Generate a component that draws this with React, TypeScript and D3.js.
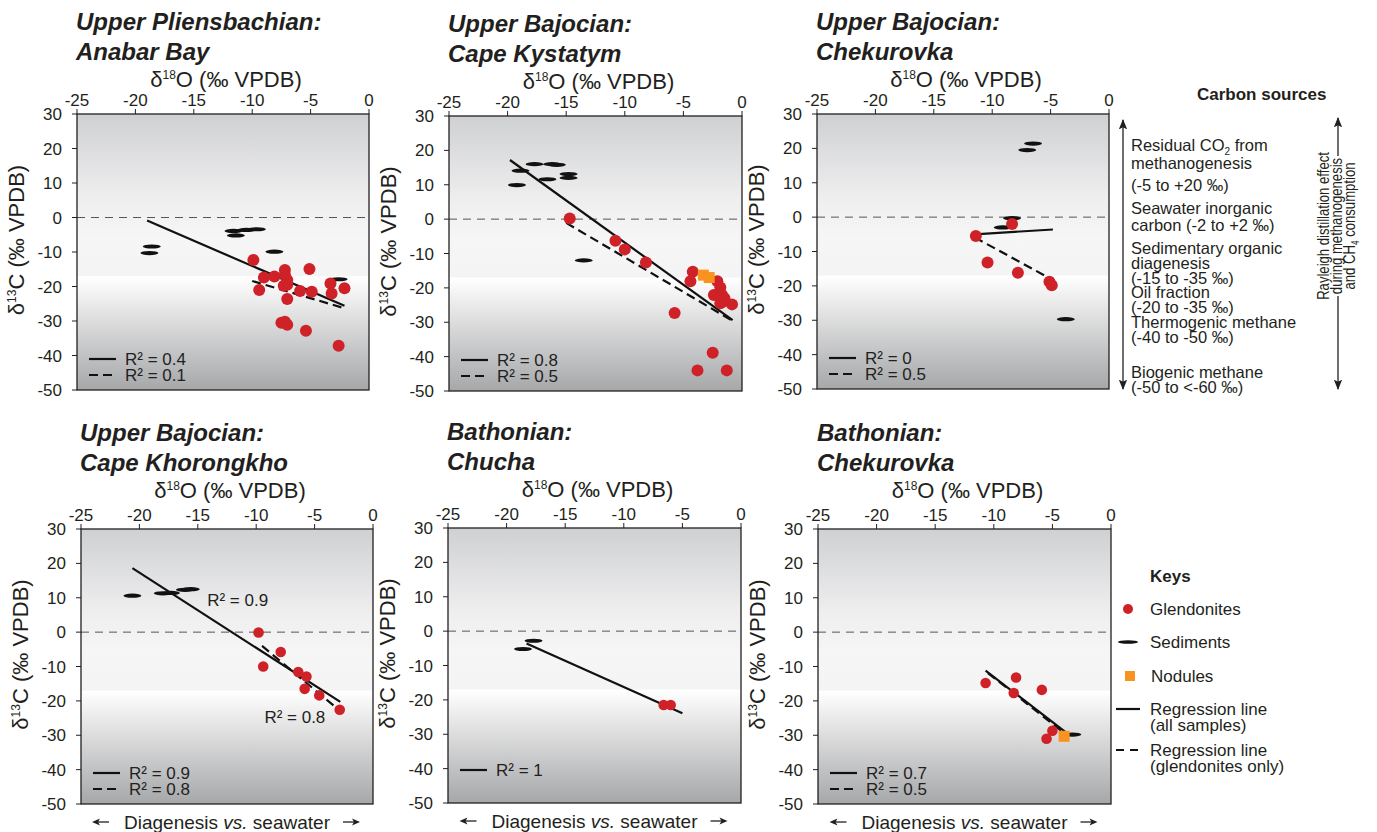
import React from 'react';
import * as d3 from 'd3';

type Pt = [number, number];

const xTicks = [-25, -20, -15, -10, -5, 0];
const yTicks = [30, 20, 10, 0, -10, -20, -30, -40, -50];

// Upper Pliensbachian: Anabar Bay
const anabarGlend: Pt[] = [
  [-9.9, -12.3], [-9.0, -17.4], [-9.4, -21], [-8.1, -17.1], [-7.2, -15.2], [-7.2, -16.6],
  [-7.0, -18.1], [-7.0, -19.5], [-7.3, -19.8], [-7.0, -23.6], [-7.5, -30.5], [-7.2, -30.2],
  [-7.0, -31.1], [-5.9, -21.3], [-5.1, -14.9], [-4.9, -21.5], [-5.4, -32.8], [-3.3, -19.1],
  [-3.2, -22], [-2.1, -20.5], [-2.6, -37.2],
];
const anabarSed: Pt[] = [
  [-18.6, -8.4], [-18.8, -10.3], [-11.6, -3.9], [-10.5, -3.6], [-9.6, -3.4], [-11.4, -5.2],
  [-8.1, -9.9], [-2.6, -17.9],
];
const anabarAllFit: Pt[] = [[-19.0, -0.9], [-2.1, -25.6]];
const anabarGlendFit: Pt[] = [[-10.0, -18.4], [-2.1, -26.3]];

// Upper Bajocian: Cape Kystatym
const kystatymGlend: Pt[] = [
  [-14.7, 0.2], [-10.8, -6.3], [-10.0, -8.8], [-8.2, -12.6], [-5.75, -27.3], [-4.2, -15.3],
  [-4.4, -18.1], [-2.1, -18.1], [-1.85, -19.9], [-2.4, -22.1], [-1.7, -22.1], [-1.6, -24],
  [-1.85, -24.5], [-0.85, -24.8], [-1.5, -23], [-2.5, -38.9], [-3.8, -44], [-1.3, -44],
];
const kystatymSed: Pt[] = [
  [-19.2, 9.9], [-18.9, 14.1], [-17.7, 16], [-16.2, 16], [-15.8, 15.8], [-16.6, 11.6],
  [-14.8, 13.1], [-14.8, 12], [-13.5, -12],
];
const kystatymNod: Pt[] = [[-3.3, -16.3], [-2.8, -17]];
const kystatymAllFit: Pt[] = [[-19.8, 17.2], [-0.8, -29.4]];
const kystatymGlendFit: Pt[] = [[-15.0, -1.1], [-0.8, -29.6]];

// Upper Bajocian: Chekurovka
const chekBajGlend: Pt[] = [
  [-11.4, -5.5], [-8.3, -2.0], [-10.4, -13.2], [-7.8, -16.2], [-5.1, -18.8], [-4.9, -19.8],
];
const chekBajSed: Pt[] = [[-6.5, 21.4], [-7.0, 19.5], [-9.1, -3.0], [-8.3, -0.3], [-3.7, -29.7]];
const chekBajAllFit: Pt[] = [[-11.5, -5.0], [-4.8, -3.6]];
const chekBajGlendFit: Pt[] = [[-11.5, -5.9], [-4.9, -18.1]];

// Upper Bajocian: Cape Khorongkho
const khorGlend: Pt[] = [
  [-9.8, -0.1], [-7.9, -5.8], [-9.4, -10], [-6.4, -11.6], [-5.7, -12.9], [-5.85, -16.5],
  [-4.6, -18.4], [-2.85, -22.6],
];
const khorSed: Pt[] = [[-20.6, 10.6], [-18.0, 11.3], [-17.3, 11.4], [-16.1, 12.3], [-15.6, 12.5]];
const khorAllFit: Pt[] = [[-20.6, 18.6], [-2.8, -20.3]];
const khorGlendFit: Pt[] = [[-9.5, -4.0], [-2.8, -23.0]];

// Bathonian: Chucha
const chuchaGlend: Pt[] = [[-6.6, -21.5], [-6.0, -21.5]];
const chuchaSed: Pt[] = [[-17.7, -2.8], [-18.6, -5.2]];
const chuchaAllFit: Pt[] = [[-18.3, -3.6], [-5.0, -23.9]];

// Bathonian: Chekurovka
const chekBathGlend: Pt[] = [
  [-10.7, -14.8], [-8.1, -13.2], [-8.3, -17.7], [-5.9, -16.8], [-5.0, -28.7], [-5.5, -31],
];
const chekBathSed: Pt[] = [[-3.3, -29.8]];
const chekBathNod: Pt[] = [[-4.0, -30.3]];
const chekBathAllFit: Pt[] = [[-10.7, -11.2], [-3.6, -29.8]];
const chekBathGlendFit: Pt[] = [[-10.5, -11.9], [-3.9, -29.6]];

const carbonSources = [
  ['Residual CO', '2', ' from'],
  ['methanogenesis'],
  ['(-5 to +20 ‰)'],
  ['Seawater inorganic'],
  ['carbon (-2 to +2 ‰)'],
  ['Sedimentary organic'],
  ['diagenesis'],
  ['(-15 to -35 ‰)'],
  ['Oil fraction'],
  ['(-20 to -35 ‰)'],
  ['Thermogenic methane'],
  ['(-40 to -50 ‰)'],
  ['Biogenic methane'],
  ['(-50 to <-60 ‰)'],
];
const carbonSourceY = [151, 169, 191, 214, 231, 254, 269, 284, 298, 313, 328, 343, 378, 393];

const RED = '#cf2128';
const ORANGE = '#f7931e';
const INK = '#231f20';
const FONT = 'Liberation Sans, Arial, Helvetica, sans-serif';

interface Panel {
  title: string[];
  left: number; right: number; top: number; bottom: number;
  glend: Pt[]; sed: Pt[]; nod: Pt[];
  allFit: Pt[]; glendFit: Pt[] | null;
  r2: string[];
  dotR: number;
  bottomLabel: boolean;
  notes?: { x: number; y: number; text: string }[];
}

const panels: Panel[] = [
  { title: ['Upper Pliensbachian:', 'Anabar Bay'], left: 77, right: 369, top: 114, bottom: 390,
    glend: anabarGlend, sed: anabarSed, nod: [], allFit: anabarAllFit, glendFit: anabarGlendFit,
    r2: ['0.4', '0.1'], dotR: 6, bottomLabel: false },
  { title: ['Upper Bajocian:', 'Cape Kystatym'], left: 449, right: 742, top: 116, bottom: 391,
    glend: kystatymGlend, sed: kystatymSed, nod: kystatymNod, allFit: kystatymAllFit, glendFit: kystatymGlendFit,
    r2: ['0.8', '0.5'], dotR: 6, bottomLabel: false },
  { title: ['Upper Bajocian:', 'Chekurovka'], left: 817, right: 1109, top: 114, bottom: 389,
    glend: chekBajGlend, sed: chekBajSed, nod: [], allFit: chekBajAllFit, glendFit: chekBajGlendFit,
    r2: ['0', '0.5'], dotR: 6, bottomLabel: false },
  { title: ['Upper Bajocian:', 'Cape Khorongkho'], left: 81, right: 373, top: 529, bottom: 804,
    glend: khorGlend, sed: khorSed, nod: [], allFit: khorAllFit, glendFit: khorGlendFit,
    r2: ['0.9', '0.8'], dotR: 5.3, bottomLabel: true,
    notes: [{ x: -14.2, y: 9.4, text: '0.9' }, { x: -9.3, y: -24.7, text: '0.8' }] },
  { title: ['Bathonian:', 'Chucha'], left: 448, right: 741, top: 528, bottom: 803,
    glend: chuchaGlend, sed: chuchaSed, nod: [], allFit: chuchaAllFit, glendFit: null,
    r2: ['1'], dotR: 5.3, bottomLabel: true },
  { title: ['Bathonian:', 'Chekurovka'], left: 818, right: 1111, top: 529, bottom: 804,
    glend: chekBathGlend, sed: chekBathSed, nod: chekBathNod, allFit: chekBathAllFit, glendFit: chekBathGlendFit,
    r2: ['0.7', '0.5'], dotR: 5.3, bottomLabel: true },
];

function Arrow({ x1, x2, y }: { x1: number; x2: number; y: number }) {
  const dir = x2 > x1 ? 1 : -1;
  return (
    <g>
      <line x1={x1} x2={x2 - dir * 4} y1={y} y2={y} stroke={INK} strokeWidth={1.3} />
      <path d={`M${x2},${y} L${x2 - dir * 8},${y - 3.5} L${x2 - dir * 6},${y} L${x2 - dir * 8},${y + 3.5} Z`} fill={INK} />
    </g>
  );
}

function PanelView({ p }: { p: Panel }) {
  const x = d3.scaleLinear().domain([-25, 0]).range([p.left, p.right]);
  const y = d3.scaleLinear().domain([-50, 30]).range([p.bottom, p.top]);
  const fit = d3.line<Pt>().x(d => x(d[0])).y(d => y(d[1]));
  const cx = (p.left + p.right) / 2;
  const cy = (p.top + p.bottom) / 2;
  // bottom row headings sit a little higher above their frames
  const lift = p.top > 400 ? 4 : 0;
  return (
    <g fontFamily={FONT} fill={INK}>
      <text x={p.left - 1} y={p.top - 84 - lift} fontSize={24} fontWeight="bold" fontStyle="italic">{p.title[0]}</text>
      <text x={p.left - 1} y={p.top - 54 - lift} fontSize={24} fontWeight="bold" fontStyle="italic">{p.title[1]}</text>
      <text x={cx + 3} y={p.top - 27 - lift} fontSize={22} textAnchor="middle">
        δ<tspan fontSize={12} dy={-8}>18</tspan><tspan dy={8}>O (‰ VPDB)</tspan>
      </text>
      <text transform={`translate(${p.left - 53},${cy - 12}) rotate(-90)`} fontSize={22} textAnchor="middle">
        δ<tspan fontSize={12} dy={-8}>13</tspan><tspan dy={8}>C  (‰ VPDB)</tspan>
      </text>
      <rect x={p.left} y={p.top} width={p.right - p.left} height={p.bottom - p.top} fill="url(#bgGrad)" />
      <line x1={p.left} x2={p.right} y1={y(0)} y2={y(0)} stroke="#555" strokeWidth={1} strokeDasharray="8,6" />
      {xTicks.map(t => (
        <g key={'x' + t}>
          <line x1={x(t)} x2={x(t)} y1={p.top} y2={p.top - 5} stroke={INK} strokeWidth={1} />
          <text x={x(t)} y={p.top - 8} fontSize={17} textAnchor="middle">{t}</text>
        </g>
      ))}
      {yTicks.map(t => (
        <g key={'y' + t}>
          <line x1={p.left} x2={p.left - 5} y1={y(t)} y2={y(t)} stroke={INK} strokeWidth={1} />
          <text x={p.left - 15} y={y(t) + 6} fontSize={17} textAnchor="end">{t}</text>
        </g>
      ))}
      {p.sed.map((d, i) => (
        <ellipse key={'s' + i} cx={x(d[0])} cy={y(d[1])} rx={9} ry={2.1} fill="#111" />
      ))}
      <path d={fit(p.allFit) || ''} stroke="#111" strokeWidth={2.2} fill="none" />
      {p.glendFit && (
        <path d={fit(p.glendFit) || ''} stroke="#111" strokeWidth={2.2} fill="none" strokeDasharray="9,5" />
      )}
      {p.glend.map((d, i) => (
        <circle key={'g' + i} cx={x(d[0])} cy={y(d[1])} r={p.dotR} fill={RED} />
      ))}
      {p.nod.map((d, i) => (
        <rect key={'n' + i} x={x(d[0]) - 5.5} y={y(d[1]) - 5.5} width={11} height={11} fill={ORANGE} />
      ))}
      {p.r2.map((r, i) => {
        const ly = p.bottom - (p.r2.length === 1 ? 33 : 31 - i * 16);
        return (
          <g key={'r' + i}>
            <line x1={p.left + 12} x2={p.left + 39} y1={ly} y2={ly} stroke="#111" strokeWidth={2.2}
              strokeDasharray={i === 1 ? '9,5' : undefined} />
            <text x={p.left + 48} y={ly + 6} fontSize={17}>R² = {r}</text>
          </g>
        );
      })}
      {p.notes && p.notes.map((n, i) => (
        <text key={'a' + i} x={x(n.x)} y={y(n.y) + 6} fontSize={17}>R² = {n.text}</text>
      ))}
      <rect x={p.left} y={p.top} width={p.right - p.left} height={p.bottom - p.top} fill="none" stroke={INK} strokeWidth={1.3} />
      {p.bottomLabel && (
        <g>
          <Arrow x1={cx - 118} x2={cx - 135} y={p.bottom + 18} />
          <text x={cx} y={p.bottom + 25} fontSize={19} textAnchor="middle">
            Diagenesis <tspan fontStyle="italic">vs.</tspan> seawater
          </text>
          <Arrow x1={cx + 116} x2={cx + 133} y={p.bottom + 18} />
        </g>
      )}
    </g>
  );
}

export default function App() {
  return (
    <svg width={1377} height={832} style={{ position: 'absolute', left: 0, top: 0, background: '#fff' }}>
      <defs>
        <linearGradient id="bgGrad" x1="0" y1="0" x2="0" y2="1">
          <stop offset="0" stopColor="#cfd0d2" />
          <stop offset="0.3" stopColor="#eeeeef" />
          <stop offset="0.45" stopColor="#f6f6f6" />
          <stop offset="0.585" stopColor="#f4f4f4" />
          <stop offset="0.59" stopColor="#ffffff" />
          <stop offset="1" stopColor="#a6a7a9" />
        </linearGradient>
        <marker id="arrowHead" viewBox="0 0 10 10" refX="9" refY="5" markerWidth="8" markerHeight="8" orient="auto-start-reverse">
          <path d="M0,1 L10,5 L0,9 L2,5 Z" fill={INK} />
        </marker>
      </defs>
      {panels.map((p, i) => <PanelView key={i} p={p} />)}

      {/* carbon sources */}
      <g fontFamily={FONT} fill={INK}>
        <text x={1197} y={100} fontSize={17} fontWeight="bold">Carbon sources</text>
        <line x1={1123} x2={1123} y1={120} y2={389} stroke={INK} strokeWidth={1.3}
          markerStart="url(#arrowHead)" markerEnd="url(#arrowHead)" />
        {carbonSources.map((parts, i) => (
          <text key={i} x={1131} y={carbonSourceY[i]} fontSize={16.5}>
            {parts.length === 1 ? parts[0] : (
              <>
                {parts[0]}<tspan fontSize={10} dy={4}>{parts[1]}</tspan><tspan dy={-4}>{parts[2]}</tspan>
              </>
            )}
          </text>
        ))}
        <text transform="translate(1329,226) rotate(-90) scale(0.82,1)" fontSize={16} textAnchor="middle">
          Rayleigh distillation effect
        </text>
        <text transform="translate(1342,226) rotate(-90) scale(0.82,1)" fontSize={16} textAnchor="middle">
          during methanogenesis
        </text>
        <text transform="translate(1355,226) rotate(-90) scale(0.82,1)" fontSize={16} textAnchor="middle">
          and CH<tspan fontSize={10} dy={4}>4</tspan><tspan dy={-4}> consumption</tspan>
        </text>
        <line x1={1338} x2={1338} y1={156} y2={118} stroke={INK} strokeWidth={1.3} markerEnd="url(#arrowHead)" />
        <line x1={1338} x2={1338} y1={296} y2={389} stroke={INK} strokeWidth={1.3} markerEnd="url(#arrowHead)" />
      </g>

      {/* keys */}
      <g fontFamily={FONT} fill={INK}>
        <text x={1150} y={582} fontSize={17} fontWeight="bold">Keys</text>
        <circle cx={1128} cy={609} r={5} fill={RED} />
        <text x={1150} y={615} fontSize={17}>Glendonites</text>
        <ellipse cx={1128} cy={642} rx={10} ry={1.8} fill="#111" />
        <text x={1150} y={648} fontSize={17}>Sediments</text>
        <rect x={1125} y={671} width={10} height={10} fill={ORANGE} />
        <text x={1151} y={682} fontSize={17}>Nodules</text>
        <line x1={1116} x2={1140} y1={709} y2={709} stroke="#111" strokeWidth={2.2} />
        <text x={1150} y={715} fontSize={17}>Regression line</text>
        <text x={1150} y={731} fontSize={17}>(all samples)</text>
        <line x1={1116} x2={1140} y1={750} y2={750} stroke="#111" strokeWidth={2.2} strokeDasharray="8,6" />
        <text x={1150} y={756} fontSize={17}>Regression line</text>
        <text x={1150} y={772} fontSize={17}>(glendonites only)</text>
      </g>
    </svg>
  );
}
